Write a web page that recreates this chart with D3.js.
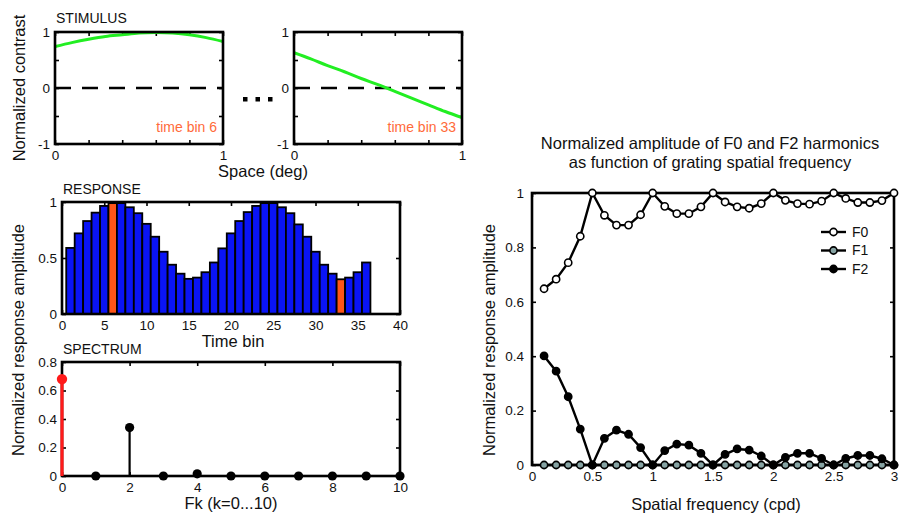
<!DOCTYPE html>
<html>
<head>
<meta charset="utf-8">
<script src="https://cdn.jsdelivr.net/npm/d3@7"></script>
<style>
    body { margin: 0; background: #fff; }
    svg { display: block; font-family: "Liberation Sans", Arial, sans-serif; }
</style>
</head>
<body>
<svg id="fig" width="903" height="518"></svg>
<script>
// stimulus snapshots (contrast along space)
const stimX = [0, 0.1, 0.2, 0.3, 0.4, 0.5, 0.6, 0.7, 0.8, 0.9, 1];
const stimBin6 = [0.74, 0.81, 0.87, 0.92, 0.95, 0.98, 0.99, 0.98, 0.95, 0.90, 0.83];
const stimBin33 = [0.63, 0.52, 0.40, 0.29, 0.17, 0.06, -0.06, -0.18, -0.30, -0.42, -0.53];

// response per time bin
const timeBins = d3.range(1, 37);
const response = [0.59, 0.72, 0.83, 0.905, 0.965, 0.99, 0.99, 0.953, 0.90, 0.805, 0.69, 0.556,
    0.44, 0.36, 0.314, 0.325, 0.373, 0.46, 0.586, 0.72, 0.83, 0.91, 0.965, 0.99,
    0.99, 0.953, 0.90, 0.80, 0.69, 0.556, 0.44, 0.36, 0.31, 0.325, 0.373, 0.46];
const highlightBins = [6, 33];

// spectrum
const harmonics = [0, 1, 2, 3, 4, 5, 6, 7, 8, 9, 10];
const spectrum = [0.68, 0, 0.34, 0, 0.015, 0, 0, 0, 0, 0, 0];

// tuning with spatial frequency
const spatialFreq = [0.1, 0.2, 0.3, 0.4, 0.5, 0.6, 0.7, 0.8, 0.9, 1.0, 1.1, 1.2, 1.3, 1.4, 1.5,
    1.6, 1.7, 1.8, 1.9, 2.0, 2.1, 2.2, 2.3, 2.4, 2.5, 2.6, 2.7, 2.8, 2.9, 3.0];
const f0 = [0.648, 0.683, 0.744, 0.841, 1.0, 0.918, 0.882, 0.882, 0.92, 1.0, 0.951, 0.924, 0.924, 0.949, 1.0,
    0.967, 0.949, 0.944, 0.961, 1.0, 0.973, 0.961, 0.959, 0.970, 1.0, 0.98, 0.965, 0.965, 0.972, 1.0];
const f1 = [0, 0, 0, 0, 0, 0, 0, 0, 0, 0, 0, 0, 0, 0, 0, 0, 0, 0, 0, 0, 0, 0, 0, 0, 0, 0, 0, 0, 0, 0];
const f2 = [0.401, 0.345, 0.251, 0.132, 0, 0.098, 0.128, 0.113, 0.064, 0, 0.053, 0.077, 0.073, 0.043, 0,
    0.039, 0.059, 0.055, 0.033, 0, 0.028, 0.043, 0.043, 0.024, 0, 0.024, 0.035, 0.035, 0.023, 0];
const seriesNames = ["F0", "F1", "F2"];
const seriesFills = ["#fff", "#86a3a3", "#000"];

const svg = d3.select("#fig");
const tickFont = 13.5;
const labelFont = 16.5;

// boxed axes with inward ticks on all four sides
function frame(x, y, opt) {
    const [x0, x1] = x.range();
    const [yb, yt] = y.range();
    const fmt = d => opt.xLabels.includes(d) ? String(d) : "";
    const fmtY = d => opt.yLabels.includes(d) ? String(d) : "";

    const bottom = svg.append("g").attr("transform", `translate(0,${yb})`)
        .call(d3.axisBottom(x).tickValues(opt.xTicks).tickSize(-4).tickSizeOuter(0).tickPadding(6).tickFormat(fmt));
    const left = svg.append("g").attr("transform", `translate(${x0},0)`)
        .call(d3.axisLeft(y).tickValues(opt.yTicks).tickSize(-4).tickSizeOuter(0).tickPadding(opt.yPad || 5).tickFormat(fmtY));
    const top = svg.append("g").attr("transform", `translate(0,${yt})`)
        .call(d3.axisTop(x).tickValues(opt.xTicks).tickSize(-4).tickSizeOuter(0).tickFormat(""));
    const right = svg.append("g").attr("transform", `translate(${x1},0)`)
        .call(d3.axisRight(y).tickValues(opt.yTicks).tickSize(-4).tickSizeOuter(0).tickFormat(""));

    [bottom, left, top, right].forEach(a => {
        a.attr("font-size", tickFont).attr("font-family", null);
        a.select(".domain").remove();
        a.selectAll(".tick line").attr("stroke-width", 1.6);
        a.selectAll(".tick text").attr("fill", "#111");
    });

    return function box() {
        svg.append("rect")
            .attr("x", x0).attr("y", yt)
            .attr("width", x1 - x0).attr("height", yb - yt)
            .attr("fill", "none").attr("stroke", "#000").attr("stroke-width", 2.6);
    };
}

function text(x, y, str, size, anchor, color) {
    return svg.append("text")
        .attr("x", x).attr("y", y)
        .attr("font-size", size)
        .attr("text-anchor", anchor || "start")
        .attr("fill", color || "#111")
        .text(str);
}

function vtext(cx, baseline, str, size) {
    return svg.append("text")
        .attr("transform", `translate(${baseline},${cx}) rotate(-90)`)
        .attr("font-size", size)
        .attr("text-anchor", "middle")
        .attr("fill", "#111")
        .text(str);
}

// STIMULUS panels
function stimPanel(left, values, note) {
    const x = d3.scaleLinear().domain([0, 1]).range([left, left + 168]);
    const y = d3.scaleLinear().domain([-1, 1]).range([144, 32]);
    const box = frame(x, y, {
        xTicks: [0, 0.2, 0.4, 0.6, 0.8, 1], xLabels: [0, 1],
        yTicks: [-1, -0.5, 0, 0.5, 1], yLabels: [-1, 0, 1]
    });

    svg.append("line")
        .attr("x1", x(0)).attr("x2", x(1))
        .attr("y1", y(0)).attr("y2", y(0))
        .attr("stroke", "#000").attr("stroke-width", 2.6)
        .attr("stroke-dasharray", "16,11");

    svg.append("path")
        .datum(stimX.map((d, i) => [d, values[i]]))
        .attr("d", d3.line().x(d => x(d[0])).y(d => y(d[1])).curve(d3.curveMonotoneX))
        .attr("fill", "none")
        .attr("stroke", "#22ee22")
        .attr("stroke-width", 3);

    box();
    text(x(1) - 6, 132, note, 14, "end", "#ff6a3a");
}

stimPanel(55, stimBin6, "time bin 6");
stimPanel(294, stimBin33, "time bin 33");
text(56, 23, "STIMULUS", 14);
text(263, 177, "Space (deg)", labelFont, "middle");
vtext(88, 25, "Normalized contrast", labelFont);

// the "..." between the snapshots
svg.selectAll("rect.dots")
    .data([0, 1, 2])
    .enter()
    .append("rect")
    .attr("class", "dots")
    .attr("x", d => 243 + d * 12.5)
    .attr("y", 97)
    .attr("width", 4.5)
    .attr("height", 4.5)
    .attr("fill", "#000");

// RESPONSE panel
{
    const x = d3.scaleLinear().domain([0, 40]).range([62, 400]);
    const y = d3.scaleLinear().domain([0, 1]).range([314, 202]);
    const box = frame(x, y, {
        xTicks: [0, 5, 10, 15, 20, 25, 30, 35, 40], xLabels: [0, 5, 10, 15, 20, 25, 30, 35, 40],
        yTicks: [0, 0.5, 1], yLabels: [0, 0.5, 1]
    });

    svg.selectAll("rect.bar")
        .data(timeBins)
        .enter()
        .append("rect")
        .attr("class", "bar")
        .attr("x", d => x(d - 0.5))
        .attr("width", d => x(d + 0.5) - x(d - 0.5))
        .attr("y", (d, i) => y(response[i]))
        .attr("height", (d, i) => y(0) - y(response[i]))
        .attr("fill", d => highlightBins.includes(d) ? "#ff5518" : "#0a14f5")
        .attr("stroke", "#000")
        .attr("stroke-width", 1.8);

    box();
    text(63, 194, "RESPONSE", 14);
    text(233, 347, "Time bin", labelFont, "middle");
}

// SPECTRUM panel
{
    const x = d3.scaleLinear().domain([0, 10]).range([62, 400]);
    const y = d3.scaleLinear().domain([0, 0.8]).range([476, 362]);
    const box = frame(x, y, {
        xTicks: [0, 2, 4, 6, 8, 10], xLabels: [0, 2, 4, 6, 8, 10],
        yTicks: [0, 0.2, 0.4, 0.6, 0.8], yLabels: [0, 0.2, 0.4, 0.6, 0.8]
    });
    box();

    const color = k => k === 0 ? "#ff1a1a" : "#000";
    svg.selectAll("line.stem")
        .data(harmonics)
        .enter()
        .append("line")
        .attr("class", "stem")
        .attr("x1", d => x(d)).attr("x2", d => x(d))
        .attr("y1", y(0)).attr("y2", (d, i) => y(spectrum[i]))
        .attr("stroke", color)
        .attr("stroke-width", d => d === 0 ? 3.2 : 2.2);

    svg.selectAll("circle.stem")
        .data(harmonics)
        .enter()
        .append("circle")
        .attr("class", "stem")
        .attr("cx", d => x(d))
        .attr("cy", (d, i) => y(spectrum[i]))
        .attr("r", d => d === 0 ? 5.2 : 4.6)
        .attr("fill", color);

    text(63, 354, "SPECTRUM", 14);
    text(231, 509, "Fk (k=0...10)", labelFont, "middle");
}
vtext(340, 24, "Normalized response amplitude", labelFont);

// harmonic amplitude vs spatial frequency
{
    const x = d3.scaleLinear().domain([0, 3]).range([532, 894]);
    const y = d3.scaleLinear().domain([0, 1]).range([465, 193]);
    const box = frame(x, y, {
        xTicks: [0, 0.5, 1, 1.5, 2, 2.5, 3], xLabels: [0, 0.5, 1, 1.5, 2, 2.5, 3],
        yTicks: [0, 0.2, 0.4, 0.6, 0.8, 1], yLabels: [0, 0.2, 0.4, 0.6, 0.8, 1], yPad: 8
    });
    box();

    const series = [f0, f1, f2];
    const line = d3.line().x(d => x(d[0])).y(d => y(d[1]));
    series.forEach((vals, s) => {
        const pts = spatialFreq.map((d, i) => [d, vals[i]]);
        svg.append("path")
            .datum(pts)
            .attr("d", line)
            .attr("fill", "none")
            .attr("stroke", "#000")
            .attr("stroke-width", 2.4);
        svg.append("g")
            .selectAll("circle")
            .data(pts)
            .enter()
            .append("circle")
            .attr("cx", d => x(d[0]))
            .attr("cy", d => y(d[1]))
            .attr("r", 3.6)
            .attr("fill", seriesFills[s])
            .attr("stroke", "#000")
            .attr("stroke-width", 1.6);
    });

    // legend
    const lg = svg.append("g")
        .selectAll("g")
        .data(seriesNames)
        .enter()
        .append("g")
        .attr("transform", (d, i) => `translate(821, ${232 + 18.5 * i})`);
    lg.append("line")
        .attr("x1", 0).attr("x2", 25)
        .attr("stroke", "#000").attr("stroke-width", 2.4);
    lg.append("circle")
        .attr("cx", 12.5).attr("r", 3.6)
        .attr("fill", (d, i) => seriesFills[i])
        .attr("stroke", "#000").attr("stroke-width", 1.6);
    lg.append("text")
        .attr("x", 31).attr("dy", "0.35em")
        .attr("font-size", 14)
        .attr("fill", "#111")
        .text(d => d);

    text(710, 149, "Normalized amplitude of F0 and F2 harmonics", labelFont, "middle");
    text(710, 168, "as function of grating spatial frequency", labelFont, "middle");
    text(716, 510, "Spatial frequency (cpd)", labelFont, "middle");
    vtext(340, 495, "Normalized response amplitude", labelFont);
}
</script>
</body>
</html>
